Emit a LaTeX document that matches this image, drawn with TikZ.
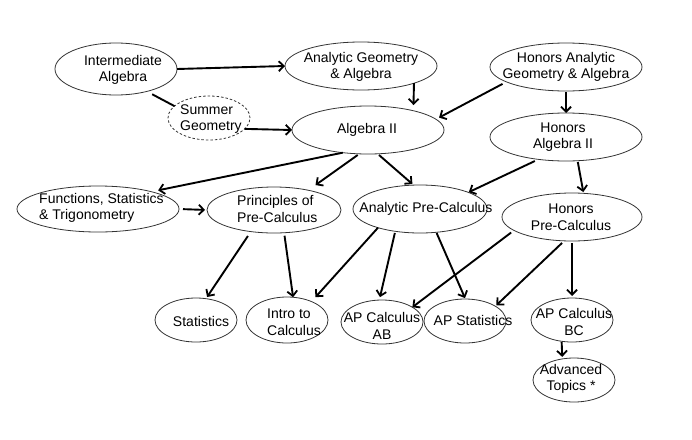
\documentclass[tikz,border=0pt]{standalone}
\usepackage{fontspec}
\setmainfont{Liberation Sans}
\usetikzlibrary{shapes.geometric,arrows.meta}
\tikzset{
  ell/.style={ellipse, draw=black!80, line width=0.8pt, inner sep=0pt, outer sep=0pt},
  dashell/.style={ell, dash pattern=on 2.5pt off 2pt},
  txt/.style={font=\fontsize{14}{16.5}\selectfont, inner sep=0pt, align=center},
  ltxt/.style={txt, align=left, anchor=west},
  arr/.style={line width=1.9pt, -{Straight Barb[length=5pt,width=10pt,line width=1.8pt]}},
  plainline/.style={line width=1.9pt}
}
\begin{document}
\begin{tikzpicture}[x=1pt,y=-1pt]
\useasboundingbox (0,0) rectangle (692,439);
% ellipses
\node[ell, minimum width=122pt, minimum height=52pt] (ia) at (116,69) {};
\node[ell, minimum width=152pt, minimum height=48pt] (aga) at (361,66) {};
\node[ell, minimum width=152pt, minimum height=48pt] (haga) at (566,67) {};
\node[dashell, minimum width=82pt, minimum height=44pt] (sg) at (209,118) {};
\node[ell, minimum width=152pt, minimum height=48pt] (alg) at (368,130) {};
\node[ell, minimum width=152pt, minimum height=48pt] (halg) at (566,137) {};
\node[ell, minimum width=162pt, minimum height=46pt] (fst) at (98,209) {};
\node[ell, minimum width=134pt, minimum height=46pt] (ppc) at (274,210) {};
\node[ell, minimum width=134pt, minimum height=48pt] (apc) at (420,209) {};
\node[ell, minimum width=140pt, minimum height=48pt] (hpc) at (572,217) {};
\node[ell, minimum width=82pt, minimum height=44pt] (st) at (196,320) {};
\node[ell, minimum width=82pt, minimum height=46pt] (ic) at (287,320) {};
\node[ell, minimum width=82pt, minimum height=44pt] (ab) at (382,322) {};
\node[ell, minimum width=82pt, minimum height=44pt] (aps) at (465,321) {};
\node[ell, minimum width=82pt, minimum height=44pt] (bc) at (572,320) {};
\node[ell, minimum width=82pt, minimum height=44pt] (adv) at (574,380) {};
% texts
\node[txt] (tia) at (123,70) {Intermediate\\Algebra};
\node[txt] (taga) at (361,67) {Analytic Geometry\\\& Algebra};
\node[txt] (thaga) at (566,67) {Honors Analytic\\Geometry \& Algebra};
\node[ltxt] (tsg) at (180,119) {Summer\\Geometry};
\node[txt] (talg) at (367,130) {Algebra II};
\node[txt] (thalg) at (563,137) {Honors\\Algebra II};
\node[ltxt] (tfst) at (39,208) {Functions, Statistics\\\& Trigonometry};
\node[ltxt] (tppc) at (237,209) {Principles of\\Pre-Calculus};
\node[txt] (tapc) at (426,209) {Analytic Pre-Calculus};
\node[txt] (thpc) at (571,217) {Honors\\Pre-Calculus};
\node[txt] (tst) at (201,321) {Statistics};
\node[ltxt] (tic) at (267,322) {Intro to\\Calculus};
\node[txt] (tab) at (382,326) {AP Calculus\\AB};
\node[txt] (taps) at (473,320) {AP Statistics};
\node[txt] (tbc) at (574,322) {AP Calculus\\BC};
\node[txt] (tadv) at (571,379) {Advanced\\Topics *};
% connectors
\draw[arr] (ia.east) -- (aga.west);
\draw[plainline, shorten <=6pt] (ia.-36) -- (sg.161);
\draw[arr] (sg.-17) -- (alg.west);
\draw[arr, shorten >=5.7pt] (aga.-18) -- (alg.23);
\draw[arr, shorten <=4.3pt, shorten >=3.5pt] (haga.194.3) -- (alg.9.7);
\draw[arr, shorten <=1pt] (haga.south) -- (halg.north);
\draw[arr, shorten >=7pt] (alg.222.6) -- (fst.18.7);
\draw[arr, shorten <=2pt, shorten >=8.9pt] (alg.250.6) -- (ppc.30.6);
\draw[arr, shorten <=1.8pt, shorten >=1.6pt] (alg.292.1) -- (apc.105.9);
\draw[arr, shorten <=3.9pt, shorten >=0.5pt] (halg.219.2) -- (apc.19.5);
\draw[arr, shorten <=1.3pt, shorten >=1.3pt] (halg.296.5) -- (hpc.64.7);
\draw[arr, shorten <=4pt, shorten >=2pt] (fst.east) -- (ppc.west);
\draw[arr, shorten <=5.3pt, shorten >=2pt] (ppc.223.2) -- (st.65.1);
\draw[arr, shorten <=3pt] (ppc.294.8) -- (ic.75.4);
\draw[arr, shorten >=5.9pt] (apc.204.3) -- (ic.37.8);
\draw[arr, shorten <=1.7pt, shorten >=3pt] (apc.222.2) -- (ab.97);
\draw[arr, shorten <=0.8pt, shorten >=1pt] (apc.305.7) -- (aps.89);
\draw[arr, shorten <=3.5pt] (hpc.193.7) -- (ab.26.6);
\draw[arr, shorten <=3pt, shorten >=1.4pt] (hpc.252.1) -- (aps.26.6);
\draw[arr, shorten <=2pt, shorten >=2pt] (hpc.south) -- (bc.north);
\draw[arr, shorten <=0.7pt, shorten >=2pt] (bc.244.8) -- (adv.119.7);
\end{tikzpicture}
\end{document}
